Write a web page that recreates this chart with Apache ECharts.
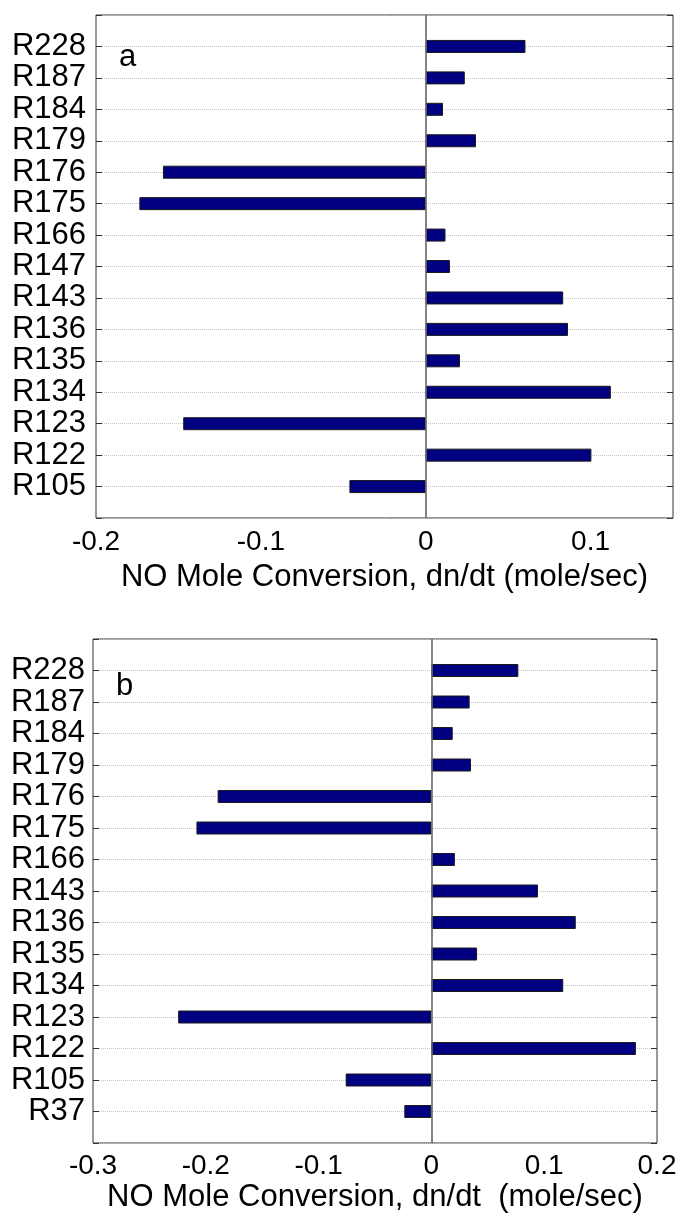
<!DOCTYPE html>
<html>
<head>
<meta charset="utf-8">
<script src="https://cdn.jsdelivr.net/npm/echarts@6/dist/echarts.min.js"></script>
<style>
  html, body { margin: 0; padding: 0; background: #fff; }
  #chart { width: 681px; height: 1221px; }
</style>
</head>
<body>
<div id="chart"></div>
<script>
// Panel (a): reactions and their NO conversion rates (mole/sec)
const reactionsA = ['R228', 'R187', 'R184', 'R179', 'R176', 'R175', 'R166', 'R147',
                    'R143', 'R136', 'R135', 'R134', 'R123', 'R122', 'R105'];
const ratesA = [0.0605, 0.0237, 0.0105, 0.0305, -0.1594, -0.1737, 0.012, 0.0147,
                0.0834, 0.0863, 0.0208, 0.1123, -0.1471, 0.1005, -0.0463];

// Panel (b)
const reactionsB = ['R228', 'R187', 'R184', 'R179', 'R176', 'R175', 'R166', 'R143',
                    'R136', 'R135', 'R134', 'R123', 'R122', 'R105', 'R37'];
const ratesB = [0.0771, 0.0339, 0.0189, 0.0351, -0.1895, -0.2083, 0.0208, 0.0945,
                0.128, 0.0405, 0.1169, -0.2245, 0.1813, -0.076, -0.024];

const xTitleA = 'NO Mole Conversion, dn/dt (mole/sec)';
const xTitleB = 'NO Mole Conversion, dn/dt  (mole/sec)';

const FONT = "'Liberation Sans', Arial, sans-serif";
const AX = '#333';

// an empty slot above and below the reactions leaves room at both ends
const pad = arr => [''].concat(arr, ['']);
const padVals = arr => [null].concat(arr, [null]);

function xAxes(gi, min, max, title, labelMargin, gap) {
  return [
    {
      type: 'value', gridIndex: gi, position: 'bottom', min: min, max: max, interval: 0.1,
      axisLine: { show: false, onZero: false },
      axisTick: { inside: true, length: 6, lineStyle: { color: AX } },
      splitLine: { show: false },
      axisLabel: {
        fontFamily: FONT, fontSize: 28, color: '#000', margin: labelMargin,
        showMaxLabel: (Math.abs(max * 10 - Math.round(max * 10)) < 1e-9),
        formatter: v => {
          const r = Math.round(v * 10) / 10;
          return r === 0 ? '0' : String(r);
        }
      },
      name: title, nameLocation: 'middle', nameGap: gap,
      nameTextStyle: { fontFamily: FONT, fontSize: 31, color: '#000' }
    },
    {
      type: 'value', gridIndex: gi, position: 'top', min: min, max: max, interval: 0.1,
      axisLine: { show: false, onZero: false },
      axisTick: { inside: true, length: 6, lineStyle: { color: AX } },
      axisLabel: { show: false }, splitLine: { show: false }
    }
  ];
}

function yAxes(gi, cats, labelMargin) {
  return [
    {
      type: 'category', gridIndex: gi, data: pad(cats), inverse: true, boundaryGap: false,
      position: 'left',
      axisLine: { show: false, onZero: false },
      axisTick: { inside: true, length: 6, interval: 0, lineStyle: { color: AX } },
      axisLabel: { fontFamily: FONT, fontSize: 31, color: '#000', margin: labelMargin, interval: 0 },
      splitLine: { show: true, interval: 0, lineStyle: { color: '#c4c4c4', type: 'dotted', width: 1 } }
    },
    {
      type: 'category', gridIndex: gi, data: pad(cats), inverse: true, boundaryGap: false,
      position: 'right',
      axisLine: { show: false, onZero: false },
      axisTick: { inside: true, length: 6, interval: 0, lineStyle: { color: AX } },
      axisLabel: { show: false }, splitLine: { show: false }
    }
  ];
}

function barSeries(gi, vals) {
  return {
    type: 'bar', xAxisIndex: gi * 2, yAxisIndex: gi * 2,
    data: padVals(vals), barWidth: 13,
    itemStyle: { color: '#000080', borderColor: '#1a1a1a', borderWidth: 1 },
    markLine: {
      silent: true, symbol: 'none', label: { show: false },
      lineStyle: { color: '#666', type: 'solid', width: 1.6 },
      data: [{ xAxis: 0 }]
    },
    z: 3
  };
}

const chart = echarts.init(document.getElementById('chart'), null, { renderer: 'canvas' });
chart.setOption({
  backgroundColor: '#fff',
  animation: false,
  grid: [
    { left: 96, top: 15, width: 577, height: 503, show: true, borderColor: AX, borderWidth: 1, backgroundColor: 'transparent' },
    { left: 93, top: 639, width: 564, height: 504, show: true, borderColor: AX, borderWidth: 1, backgroundColor: 'transparent' }
  ],
  xAxis: xAxes(0, -0.2, 0.15, xTitleA, 10, 44).concat(xAxes(1, -0.3, 0.2, xTitleB, 9, 39)),
  yAxis: yAxes(0, reactionsA, 10).concat(yAxes(1, reactionsB, 8)),
  series: [barSeries(0, ratesA), barSeries(1, ratesB)],
  graphic: [
    { type: 'text', x: 119, y: 57.6, style: { text: 'a', font: "31px " + FONT, fill: '#000', verticalAlign: 'middle' } },
    { type: 'text', x: 116, y: 686, style: { text: 'b', font: "31px " + FONT, fill: '#000', verticalAlign: 'middle' } }
  ]
});
</script>
</body>
</html>
